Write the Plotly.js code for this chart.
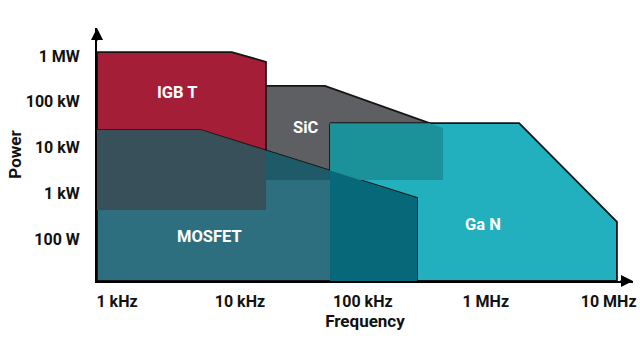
<!DOCTYPE html>
<html>
<head>
<meta charset="utf-8">
<script src="https://cdn.plot.ly/plotly-3.0.1.min.js"></script>
<style>html,body{margin:0;padding:0;background:#fff;}#chart{width:640px;height:360px;}</style>
</head>
<body>
<div id="chart"></div>
<script>
// ---- Data (frequency in Hz, power in W) ----
var igbtFreq    = [1e3, 12.5e3, 23.7e3, 23.7e3, 1e3];
var igbtPower   = [1e6, 1e6, 612e3, 357, 357];
var sicFreq     = [23.7e3, 71.6e3, 653e3, 653e3, 23.7e3];
var sicPower    = [183e3, 183e3, 22e3, 1.6e3, 1.6e3];
var ganFreq     = [78.7e3, 2.72e6, 17e6, 17e6, 78.7e3];
var ganPower    = [28e3, 28e3, 195, 10, 10];
var mosfetFreq  = [1e3, 6.9e3, 402e3, 402e3, 1e3];
var mosfetPower = [20e3, 20e3, 652, 10, 10];

var labelText  = ['IGB T', 'SiC', 'MOSFET', 'Ga N'];
var labelFreq  = [4.56e3, 50e3, 8.3e3, 1.38e6];
var labelPower = [128e3, 22e3, 92, 168];

var xTickVals = [1e3, 1e4, 1e5, 1e6, 1e7];
var xTickText = ['1 kHz', '10 kHz', '100 kHz', '1 MHz', '10 MHz'];
var yTickVals = [100, 1e3, 1e4, 1e5, 1e6];
var yTickText = ['100 W', '1 kW', '10 kW', '100 kW', '1 MW'];

// ---- Styles ----
var colors = {
  igbt: '#A51E38', sic: '#5E5F62', gan: '#22AFBE', mosfet: '#2E6F7F',
  igbtMos: '#37505A', sicMos: '#1F5A68', ganSic: '#1B9199', ganMos: '#066878'
};
var FONT = 'Roboto, "Noto Sans", Arial, sans-serif';

// ---- Polygon helpers (log space, convex clipping) ----
function toLog(fx, py) { return fx.map(function (f, i) { return [Math.log10(f), Math.log10(py[i])]; }); }
function area(p) { var s = 0; for (var i = 0; i < p.length; i++) { var a = p[i], b = p[(i + 1) % p.length]; s += a[0] * b[1] - b[0] * a[1]; } return s / 2; }
function clip(subject, clipPoly) {
  var sign = area(clipPoly) > 0 ? 1 : -1;
  var out = subject.slice();
  for (var i = 0; i < clipPoly.length && out.length; i++) {
    var A = clipPoly[i], B = clipPoly[(i + 1) % clipPoly.length];
    var inside = function (p) { return sign * ((B[0] - A[0]) * (p[1] - A[1]) - (B[1] - A[1]) * (p[0] - A[0])) >= -1e-12; };
    var inter = function (P, Q) {
      var a1 = B[1] - A[1], b1 = A[0] - B[0], c1 = a1 * A[0] + b1 * A[1];
      var a2 = Q[1] - P[1], b2 = P[0] - Q[0], c2 = a2 * P[0] + b2 * P[1];
      var det = a1 * b2 - a2 * b1;
      return [(b2 * c1 - b1 * c2) / det, (a1 * c2 - a2 * c1) / det];
    };
    var input = out; out = [];
    for (var j = 0; j < input.length; j++) {
      var P = input[j], Q = input[(j + 1) % input.length];
      var pin = inside(P), qin = inside(Q);
      if (pin) { out.push(P); if (!qin) out.push(inter(P, Q)); }
      else if (qin) { out.push(inter(P, Q)); }
    }
  }
  return out;
}
function fromLog(poly) {
  return { x: poly.map(function (p) { return Math.pow(10, p[0]); }), y: poly.map(function (p) { return Math.pow(10, p[1]); }) };
}

var IGBT = toLog(igbtFreq, igbtPower), SIC = toLog(sicFreq, sicPower),
    GAN = toLog(ganFreq, ganPower), MOS = toLog(mosfetFreq, mosfetPower);

function shapeTrace(fx, py, color) {
  return { type: 'scatter', mode: 'lines', x: fx.concat([fx[0]]), y: py.concat([py[0]]),
    fill: 'toself', fillcolor: color, line: { color: '#151515', width: 1.8 }, hoverinfo: 'skip', showlegend: false };
}
function overlapTrace(a, b, color) {
  var o = fromLog(clip(a, b));
  return { type: 'scatter', mode: 'lines', x: o.x.concat([o.x[0]]), y: o.y.concat([o.y[0]]),
    fill: 'toself', fillcolor: color, line: { width: 0, color: color }, hoverinfo: 'skip', showlegend: false };
}

var data = [
  shapeTrace(igbtFreq, igbtPower, colors.igbt),
  shapeTrace(sicFreq, sicPower, colors.sic),
  shapeTrace(ganFreq, ganPower, colors.gan),
  shapeTrace(mosfetFreq, mosfetPower, colors.mosfet),
  overlapTrace(IGBT, MOS, colors.igbtMos),
  overlapTrace(SIC, MOS, colors.sicMos),
  overlapTrace(GAN, SIC, colors.ganSic),
  overlapTrace(GAN, MOS, colors.ganMos)
];

var annotations = labelText.map(function (t, i) {
  return { x: Math.log10(labelFreq[i]), y: Math.log10(labelPower[i]), xref: 'x', yref: 'y', text: t, showarrow: false,
    font: { family: FONT, size: 16.5, color: '#ffffff', weight: 700 } };
});
// axis arrowheads
annotations.push({ xref: 'paper', yref: 'paper', x: 1, y: 0, ax: -14, ay: 0, text: '', showarrow: true,
  arrowhead: 2, arrowsize: 1.2, arrowwidth: 2, arrowcolor: '#000' });
annotations.push({ xref: 'paper', yref: 'paper', x: 0, y: 1, ax: 0, ay: 14, text: '', showarrow: true,
  arrowhead: 2, arrowsize: 1.2, arrowwidth: 2, arrowcolor: '#000' });

var tickFont = { family: FONT, size: 16, color: '#111', weight: 700 };
var titleFont = { family: FONT, size: 17, color: '#111', weight: 700 };
var layout = {
  width: 640, height: 360,
  margin: { l: 97, r: 7, t: 28, b: 79 },
  paper_bgcolor: '#fff', plot_bgcolor: '#fff',
  showlegend: false,
  xaxis: {
    type: 'log', range: [3, 7.361], tickvals: xTickVals, ticktext: xTickText,
    showgrid: false, zeroline: false, showline: true, linecolor: '#000', linewidth: 2,
    ticks: '', tickfont: tickFont, ticklabelshift: 20, ticklabelstandoff: 5,
    title: { text: 'Frequency', font: titleFont, standoff: 3 },
    fixedrange: true
  },
  yaxis: {
    type: 'log', range: [1, 6.525], tickvals: yTickVals, ticktext: yTickText,
    showgrid: false, zeroline: false, showline: true, linecolor: '#000', linewidth: 2,
    ticks: '', tickfont: tickFont, ticklabelstandoff: 12, ticklabelshift: 4,
    title: { text: 'Power', font: titleFont, standoff: 0 },
    fixedrange: true
  },
  annotations: annotations
};

Plotly.newPlot('chart', data, layout, { staticPlot: true, displayModeBar: false });
</script>
</body>
</html>
